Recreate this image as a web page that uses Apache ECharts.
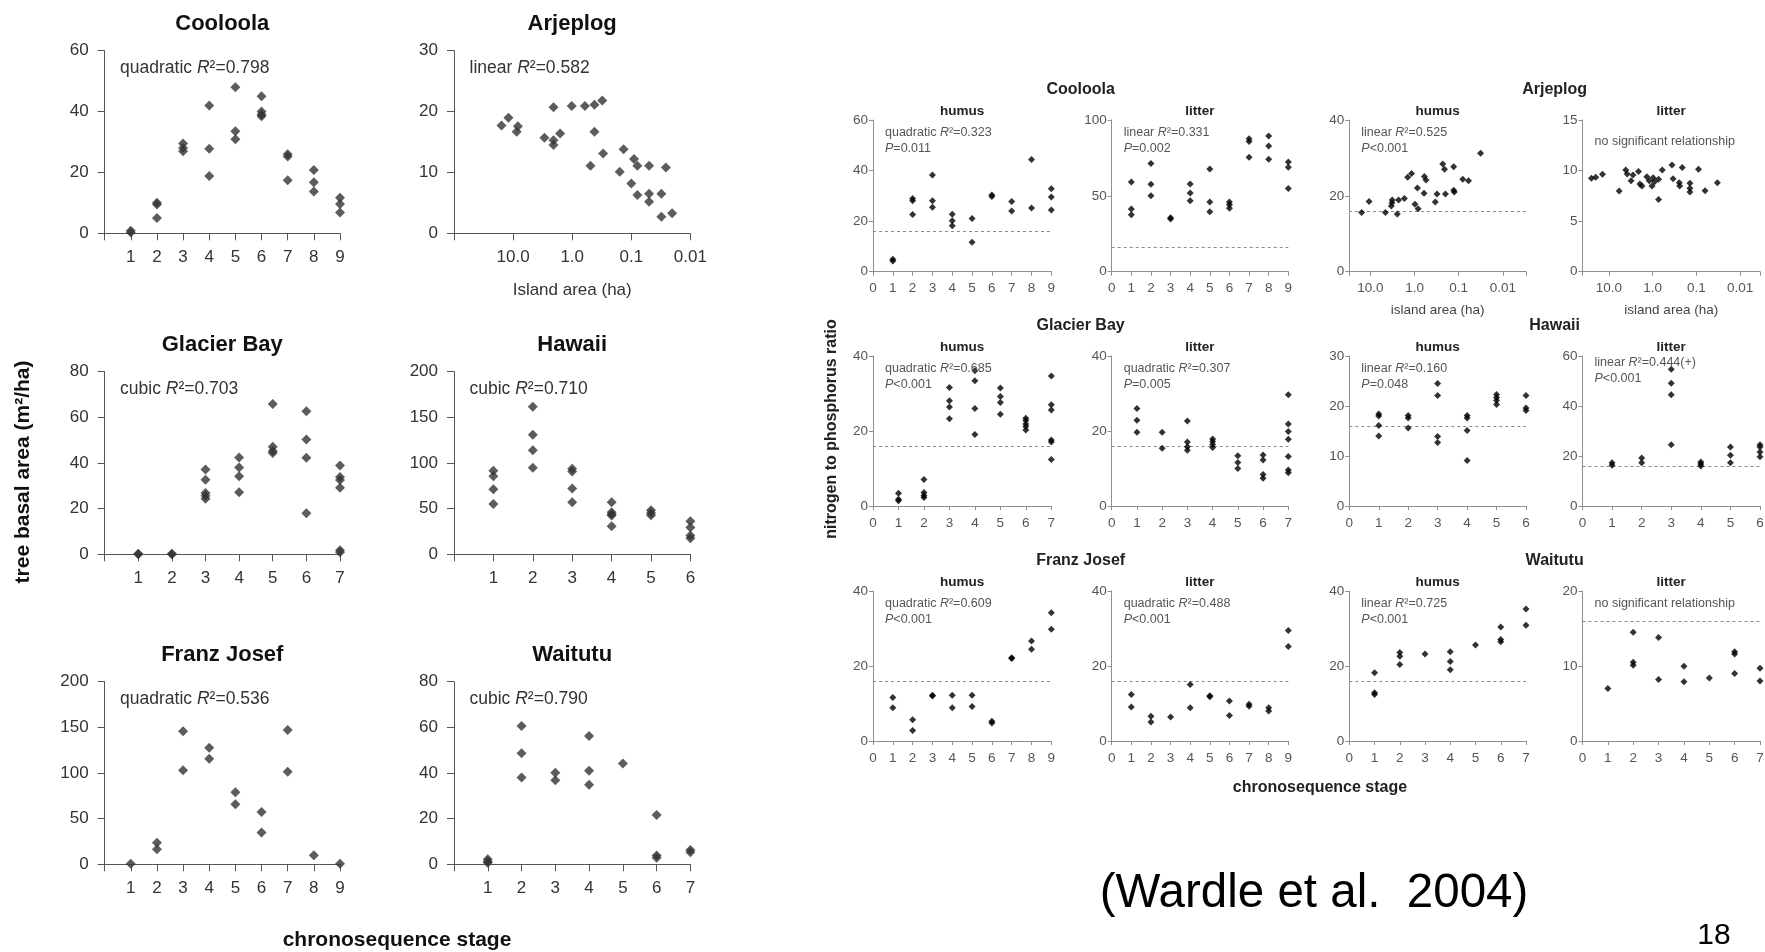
<!DOCTYPE html>
<html><head><meta charset="utf-8">
<script src="https://cdn.jsdelivr.net/npm/echarts@6/dist/echarts.min.js"></script>
<style>html,body{margin:0;padding:0;background:#fff}#c{width:1765px;height:952px}</style>
</head><body><div id="c"></div><script>
// ================= DATA =================
// Left block: tree basal area (m2/ha); index 0 = chronosequence stage 1
const cooloolaBasal = [[0.3,0.8],[10,9.5,5],[29.5,28,27],[42,27.8,18.8],[48,33.5,30.9],[45,40,38.5,39],[26,25.2,17.4],[20.8,16.8,13.7],[11.7,9.6,6.8]];
const arjeplogArea  = [15.7,12,8.3,8.7,2.95,2.07,2.07,2.07,1.6,1.02,0.61,0.42,0.31,0.42,0.49,0.30,0.157,0.135,0.1,0.09,0.079,0.079,0.05,0.05,0.05,0.031,0.026,0.031,0.0204];
const arjeplogBasal = [17.7,19.0,17.6,16.7,15.7,15.3,14.5,20.7,16.4,20.9,20.9,21.1,21.8,16.7,11.1,13.1,10.1,13.8,8.2,12.2,11.1,6.3,11.1,6.5,5.2,6.5,10.8,2.7,3.3];
const glacierBasal  = [[0.2,0],[0.2,0],[37.1,32.7,26.9,25.7,24.3],[42.4,38,34.2,27.2],[65.9,47.1,45.3,44.4],[62.7,50.3,42.3,18],[38.9,33.9,32.5,29.2,1.8,0.9]];
const hawaiiBasal   = [[91.4,85.6,71.3,55.2],[161.6,130.9,114.1,94.7],[93.6,90.7,72,57],[57,46,43.9,42.4,30.7],[48.3,45.3,42.8],[36.2,29.3,20.5,17.5]];
const franzBasal    = [[0.5],[23.7,16.4],[145.6,102.9],[127.7,115.7],[78.8,65.7],[57.3,34.7],[147.1,101.5],[9.9],[0.5]];
const waitutuBasal  = [[2.2,1.2,0.7],[60.6,48.6,38],[40.1,36.8],[56.2,41,34.9],[44.2],[21.6,3.9,2.9],[6.3,5.3]];

// Right block: nitrogen to phosphorus ratio
const cooloolaHumus = [[4.9,4.2],[29,28.1,22.6],[38.2,28.1,25.5],[22.7,20.2,18.2],[21,11.6],[30.3,29.7],[27.8,24],[44.4,25.2],[32.8,29.5,24.4]];
const cooloolaLitter = [[59.1,41.3,37.6],[71.4,57.6,50.1],[35.6,34.7],[57.8,51.9,46.8],[67.7,45.9,39.6],[45.9,44.2,41.8],[87.7,85.9,75.4],[89.5,82.9,74.1],[72.3,68.8,54.9]];
const arjHumusArea = [15.8,10.7,4.56,3.36,3.24,3.2,2.46,2.3,1.7,1.43,1.17,0.98,0.86,0.83,0.61,0.60,0.55,0.34,0.31,0.23,0.21,0.2,0.13,0.13,0.126,0.081,0.060,0.032];
const arjHumusNP   = [15.6,18.5,15.6,17.3,18.2,18.9,15.2,18.9,19.3,24.9,25.9,17.8,22.1,16.6,20.7,25.1,24.2,18.4,20.5,28.4,27.0,20.5,27.7,21.5,21.0,24.4,24.0,31.2];
const arjLitterArea = [25,20,14,5.8,4.1,3.8,3.1,2.8,2.1,1.95,1.75,1.35,1.19,1.03,0.97,0.9,0.73,0.73,0.6,0.36,0.34,0.245,0.24,0.21,0.14,0.14,0.14,0.089,0.063,0.033];
const arjLitterNP   = [9.23,9.33,9.63,7.98,10.06,9.66,9.0,9.56,9.9,8.67,8.47,9.4,9.0,8.47,9.3,8.9,9.13,7.15,10.06,10.55,9.2,8.8,8.47,10.3,8.74,8.24,7.88,10.12,8.0,8.8];
const glacierHumus = [[3.4,1.8,1.4],[7.1,3.6,2.8,2.3],[31.6,28.1,26.4,23.3],[36.1,33.4,26,19.1],[31.5,29.2,27.6,24.5],[23.4,22.8,21.9,21.2,20.3],[34.7,27,25.6,17.6,17.1,12.4]];
const glacierLitter = [[26,22.9,19.7],[19.7,15.4],[22.7,17.1,15.8,14.9],[17.9,17.2,16.4,15.6],[13.4,11.6,10],[13.6,12.3,8.4,7.4],[29.7,21.9,19.9,17.8,13.2,9.6,8.9]];
const hawaiiHumus = [[18.4,18,16.1,14],[18.1,17.6,15.6],[24.5,22.1,13.9,12.7],[18.1,17.6,15.1,9.1],[22.3,21.7,21.1,20.3],[22.1,19.6,19.1]];
const hawaiiLitter = [[17.3,16.3],[19.2,17.3],[54.7,49.1,44.5,24.5],[17.6,16.8,16],[23.6,20.3,17.3],[24.5,23.6,21.6,19.7]];
const franzHumus = [[11.6,8.9],[5.7,2.8],[12.2,12],[12.2,8.9],[12.2,9.2],[5.3,4.8],[22.2,22],[26.7,24.5],[34.2,29.8]];
const franzLitter = [[12.4,9.1],[6.6,5.1],[6.4],[15.1,8.9],[12.1,11.8],[10.7,6.8],[9.8,9.3],[8.9,8],[29.5,25.2]];
const waitutuHumus = [[18.2,12.9,12.4],[23.6,22.6,20.4],[23.2],[23.8,21.2,19],[25.6],[30.4,27.1,26.5],[35.2,30.9]];
const waitutuLitter = [[7],[14.5,10.5,10.1],[13.8,8.2],[9.96,7.9],[8.4],[11.9,11.6,9],[9.7,8]];

const redfieldNP = 16;                                  // dashed reference line
const areaTickValues = [10, 1, 0.1, 0.01];
const areaTickLabels = ['10.0', '1.0', '0.1', '0.01'];

// ================= HELPERS =================
function byStage(arr){ const out=[]; arr.forEach((vals,i)=>vals.forEach(v=>out.push([i+1,v]))); return out; }
function pairs(xs, ys){ return xs.map((x,i)=>[x, ys[i]]); }
function areaLabel(v){
  const lv = Math.log10(v);
  for (let k=0;k<areaTickValues.length;k++){ if (Math.abs(lv - Math.log10(areaTickValues[k])) < 1e-6) return areaTickLabels[k]; }
  return '';
}

const FONT = "'Liberation Sans', Arial, Helvetica, sans-serif";
const grids=[], xAxes=[], yAxes=[], series=[], graphics=[];

function txt(x, y, text, size, opt){
  opt = opt || {};
  const color = opt.color || '#000';
  const align = opt.align || 'center';
  const st = {text, fontSize:size, fontFamily:FONT, fontWeight: opt.bold?'bold':'normal', fill: color,
    align, verticalAlign:'middle', textAlign: align, textVerticalAlign:'middle'};
  if (opt.rich) st.rich = {
    n:{fontSize:size, fontFamily:FONT, fill:color},
    i:{fontSize:size, fontFamily:FONT, fontStyle:'italic', fill:color}
  };
  graphics.push({type:'text', x, y, rotation: opt.rot||0, silent:true, z:100, style:st});
}

const styles = {
  left:  {axis:'#555', label:'#333', size:17, tick:7, xMargin:16, yMargin:16, sym:[10,10], color:'#333', hideZero:true},
  right: {axis:'#8f8f8f', label:'#555', size:13.5, tick:4, xMargin:10, yMargin:5, sym:[7,7], color:'#000', hideZero:false}
};

function addPanel(g, s, p){
  const idx = grids.length;
  grids.push({left:g[0], top:g[1], width:g[2], height:g[3], containLabel:false, outerBoundsMode:'none'});
  const line = {show:true, onZero:false, lineStyle:{color:s.axis, width:1}};
  const tick = {show:true, length:s.tick, lineStyle:{color:s.axis, width:1}};
  const lab = {color:s.label, fontSize:s.size, fontFamily:FONT};
  if (p.log){
    xAxes.push({gridIndex:idx, type:'log', logBase:10, min:p.log[0], max:p.log[1], inverse:true,
      axisLine:line, axisTick:tick, splitLine:{show:false},
      axisLabel:Object.assign({margin:s.xMargin, showMinLabel:true, showMaxLabel:true, formatter:areaLabel}, lab)});
  } else {
    xAxes.push({gridIndex:idx, type:'value', min:0, max:p.xmax, interval:1,
      axisLine:line, axisTick:tick, splitLine:{show:false},
      axisLabel:Object.assign({margin:s.xMargin, formatter:v => (v===0 && s.hideZero) ? '' : String(v)}, lab)});
  }
  yAxes.push({gridIndex:idx, type:'value', min:0, max:p.ymax, interval:p.yint,
    axisLine:line, axisTick:tick, splitLine:{show:false},
    axisLabel:Object.assign({margin:s.yMargin}, lab)});
  const ser = {type:'scatter', xAxisIndex:idx, yAxisIndex:idx, data:p.data, symbol:'diamond',
    symbolSize:s.sym, itemStyle:{color:s.color}, silent:true, z:5};
  if (p.ref) ser.markLine = {silent:true, symbol:'none', label:{show:false},
    lineStyle:{type:[3,3], color:'#8a8a8a', width:1}, data:[{yAxis:p.ref}], animation:false};
  series.push(ser);
}

// ================= LEFT BLOCK =================
const LX=[104.6,454], LW=[235.4,236.4], LY=[50.7,371.7,681.7], LH=182.6;
const leftPanels = [
  {title:'Cooloola', c:0, r:0, xmax:9, ymax:60, yint:20, data:byStage(cooloolaBasal), note:['quadratic','0.798']},
  {title:'Arjeplog', c:1, r:0, log:[0.01,100], ymax:30, yint:10, data:pairs(arjeplogArea, arjeplogBasal), note:['linear','0.582'], xname:'Island area (ha)'},
  {title:'Glacier Bay', c:0, r:1, xmax:7, ymax:80, yint:20, data:byStage(glacierBasal), note:['cubic','0.703']},
  {title:'Hawaii', c:1, r:1, xmax:6, ymax:200, yint:50, data:byStage(hawaiiBasal), note:['cubic','0.710']},
  {title:'Franz Josef', c:0, r:2, xmax:9, ymax:200, yint:50, data:byStage(franzBasal), note:['quadratic','0.536']},
  {title:'Waitutu', c:1, r:2, xmax:7, ymax:80, yint:20, data:byStage(waitutuBasal), note:['cubic','0.790']}
];
leftPanels.forEach(p=>{
  const g=[LX[p.c], LY[p.r], LW[p.c], LH];
  addPanel(g, styles.left, p);
  txt(g[0]+g[2]/2, g[1]-27, p.title, 22, {bold:true, color:'#111'});
  txt(g[0]+15.5, g[1]+17.5, `{n|${p.note[0]} }{i|R}{n|²=${p.note[1]}}`, 17.5, {align:'left', color:'#333', rich:true});
  if (p.xname) txt(g[0]+g[2]/2, g[1]+g[3]+57, p.xname, 17, {color:'#333'});
});
txt(23, 472, 'tree basal area (m²/ha)', 21, {bold:true, rot:Math.PI/2, color:'#111'});
txt(397, 940, 'chronosequence stage', 21, {bold:true, color:'#111'});

// ================= RIGHT BLOCK =================
const RX=[873,1111.7,1349.3,1582.5], RW=[178.3,176.6,176.7,177.5], RY=[120,356,591], RH=[151.7,150,150];
const sites = [['Cooloola','Arjeplog'],['Glacier Bay','Hawaii'],['Franz Josef','Waitutu']];
const rightPanels = [
  {c:0,r:0,sub:'humus', xmax:9, ymax:60, yint:20, data:byStage(cooloolaHumus), note:['quadratic','0.323','=0.011']},
  {c:1,r:0,sub:'litter', xmax:9, ymax:100, yint:50, data:byStage(cooloolaLitter), note:['linear','0.331','=0.002']},
  {c:2,r:0,sub:'humus', log:[0.003,30], ymax:40, yint:20, data:pairs(arjHumusArea, arjHumusNP), note:['linear','0.525','<0.001'], xname:'island area (ha)'},
  {c:3,r:0,sub:'litter', log:[0.0035,40], ymax:15, yint:5, data:pairs(arjLitterArea, arjLitterNP), ns:true, nsDy:22, xname:'island area (ha)', noRef:true},
  {c:0,r:1,sub:'humus', xmax:7, ymax:40, yint:20, data:byStage(glacierHumus), note:['quadratic','0.685','<0.001']},
  {c:1,r:1,sub:'litter', xmax:7, ymax:40, yint:20, data:byStage(glacierLitter), note:['quadratic','0.307','=0.005']},
  {c:2,r:1,sub:'humus', xmax:6, ymax:30, yint:10, data:byStage(hawaiiHumus), note:['linear','0.160','=0.048']},
  {c:3,r:1,sub:'litter', xmax:6, ymax:60, yint:20, data:byStage(hawaiiLitter), note:['linear','0.444(+)','<0.001'], noteDy:-6},
  {c:0,r:2,sub:'humus', xmax:9, ymax:40, yint:20, data:byStage(franzHumus), note:['quadratic','0.609','<0.001']},
  {c:1,r:2,sub:'litter', xmax:9, ymax:40, yint:20, data:byStage(franzLitter), note:['quadratic','0.488','<0.001']},
  {c:2,r:2,sub:'humus', xmax:7, ymax:40, yint:20, data:byStage(waitutuHumus), note:['linear','0.725','<0.001']},
  {c:3,r:2,sub:'litter', xmax:7, ymax:20, yint:10, data:byStage(waitutuLitter), ns:true, nsDy:13}
];
rightPanels.forEach(p=>{
  const g=[RX[p.c], RY[p.r], RW[p.c], RH[p.r]];
  if (!p.noRef) p.ref = redfieldNP;
  addPanel(g, styles.right, p);
  txt(g[0]+g[2]/2, g[1]-9, p.sub, 13.5, {bold:true, color:'#222'});
  const col='#555';
  if (p.ns) txt(g[0]+12, g[1]+p.nsDy, 'no significant relationship', 12.5, {align:'left', color:col});
  else {
    const dy = p.noteDy||0;
    txt(g[0]+12, g[1]+13+dy, `{n|${p.note[0]} }{i|R}{n|²=${p.note[1]}}`, 12.5, {align:'left', color:col, rich:true});
    txt(g[0]+12, g[1]+29+dy, `{i|P}{n|${p.note[2]}}`, 12.5, {align:'left', color:col, rich:true});
  }
  if (p.xname) txt(g[0]+g[2]/2, g[1]+g[3]+38.5, p.xname, 13.5, {color:'#444'});
});
for (let r=0;r<3;r++){
  txt((RX[0]+RX[1]+RW[1])/2, RY[r]-30, sites[r][0], 16, {bold:true, color:'#222'});
  txt((RX[2]+RX[3]+RW[3])/2, RY[r]-30, sites[r][1], 16, {bold:true, color:'#222'});
}
txt(832, 429, 'nitrogen to phosphorus ratio', 16, {bold:true, rot:Math.PI/2, color:'#222'});
txt(1320, 788, 'chronosequence stage', 16, {bold:true, color:'#222'});

txt(1314, 894, '(Wardle et al.  2004)', 47.5, {color:'#000'});
txt(1714, 936, '18', 30, {color:'#000'});

// ================= CHART =================
const chart = echarts.init(document.getElementById('c'), null, {renderer:'canvas', width:1765, height:952});
chart.setOption({
  animation:false,
  backgroundColor:'#fff',
  grid:grids, xAxis:xAxes, yAxis:yAxes, series:series, graphic:{elements:graphics}
});
</script></body></html>
